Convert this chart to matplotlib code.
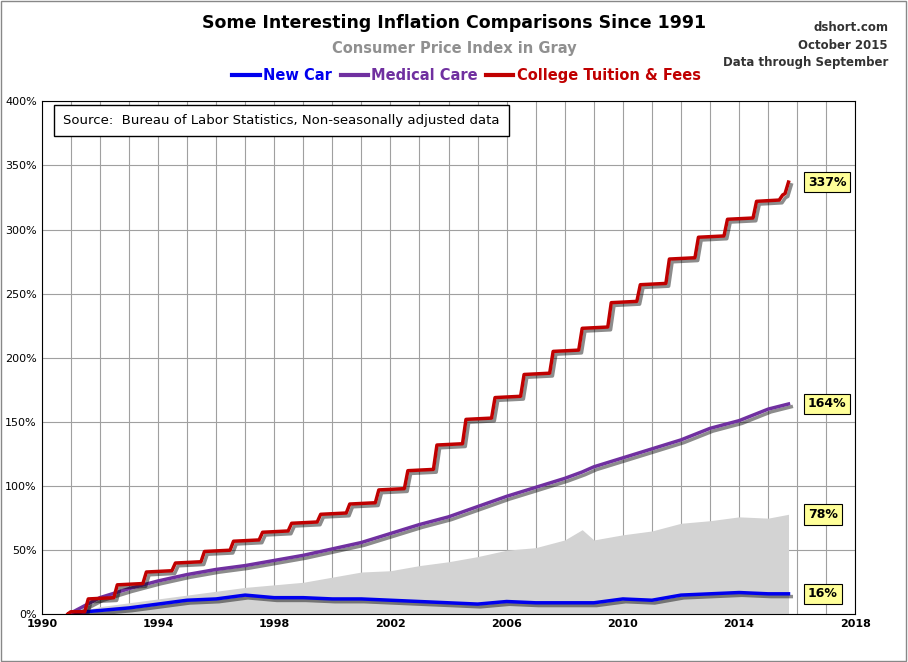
import matplotlib
matplotlib.use("Agg")
import matplotlib.pyplot as plt
import matplotlib.patheffects as pe
import numpy as np

years = [1990.92,1991,1992,1993,1994,1995,1996,1997,1998,1999,2000,2001,2002,2003,2004,2005,2006,2007,2008,2008.6,2009,2010,2011,2012,2013,2014,2015,2015.7]
cpi = [0,1,6,9,12,15,18,21,23,25,29,33,34,38,41,45,50,52,58,66,58,62,65,71,73,76,75,78]
med = [0,1,13,20,26,31,35,38,42,46,51,56,63,70,76,84,92,99,106,111,115,122,129,136,145,151,160,164]
car = [0,1,3,5,8,11,12,15,13,13,12,12,11,10,9,8,10,9,9,9,9,12,11,15,16,17,16,16]

col_steps = [1990.92,1991.0,1991.6,1992.6,1993.6,1994.6,1995.6,1996.6,1997.6,1998.6,1999.6,2000.6,2001.6,2002.6,2003.6,2004.6,2005.6,2006.6,2007.6,2008.6,2009.6,2010.6,2011.6,2012.6,2013.6,2014.6,2015.5,2015.7]
col_vals = [0,2,12,23,33,40,49,57,64,71,78,86,97,112,132,152,169,187,205,223,243,257,277,294,308,322,327,337]

cx, cy = [], []
for i in range(len(col_steps)-1):
    cx += [col_steps[i], col_steps[i+1]-0.12]
    cy += [col_vals[i], col_vals[i] + (1 if i > 1 else 0)]
cx.append(col_steps[-1]); cy.append(col_vals[-1])

fig = plt.figure(figsize=(9.08, 6.62), dpi=100)
ax = fig.add_axes([0.046, 0.072, 0.896, 0.775])
ax.fill_between(years, cpi, color="#d3d3d3", lw=0, zorder=1)
sh = [pe.SimpleLineShadow(offset=(2, -2), alpha=0.45), pe.Normal()]
ax.plot(years, car, color="#0000ee", lw=2.5, zorder=3, path_effects=sh)
ax.plot(years, med, color="#7030a0", lw=2.5, zorder=3, path_effects=sh)
ax.plot(cx, cy, color="#c00000", lw=2.5, zorder=3, path_effects=sh)

ax.set_xlim(1990, 2018)
ax.set_ylim(0, 400)
ax.set_xticks(range(1990, 2019, 4))
ax.set_xticks(range(1990, 2019), minor=True)
ax.set_yticks(range(0, 401, 50))
ax.set_yticklabels([f"{v}%" for v in range(0, 401, 50)])
ax.grid(True, which="both", axis="x", color="#a0a0a0", lw=0.8)
ax.grid(True, axis="y", color="#a0a0a0", lw=0.8)
ax.set_axisbelow(True)
ax.tick_params(labelsize=8, length=0, which="both")
for t in ax.get_xticklabels():
    t.set_fontweight("bold")

for v, lab in [(337, "337%"), (164, "164%"), (78, "78%"), (16, "16%")]:
    ax.annotate(lab, (2015.7, v), xytext=(14, 0), textcoords="offset points",
                va="center", fontsize=9, fontweight="bold",
                bbox=dict(boxstyle="square,pad=0.3", fc="#ffff99", ec="black", lw=0.8),
                path_effects=[pe.withSimplePatchShadow(offset=(2, -2), alpha=0.5)] if False else None)

ax.text(0.026, 0.975, "Source:  Bureau of Labor Statistics, Non-seasonally adjusted data",
        transform=ax.transAxes, fontsize=9.5, va="top",
        bbox=dict(boxstyle="square,pad=0.7", fc="white", ec="black", lw=1))

fig.text(0.5, 0.958, "Some Interesting Inflation Comparisons Since 1991", ha="center",
         fontsize=12.5, fontweight="bold")
fig.text(0.5, 0.92, "Consumer Price Index in Gray", ha="center", fontsize=10.5,
         fontweight="bold", color="#909090")
fig.text(0.978, 0.968, "dshort.com\nOctober 2015\nData through September", ha="right",
         va="top", fontsize=8.5, fontweight="bold", color="#333333", linespacing=1.45)
items = [("New Car", "#0000ee", 0.256), ("Medical Care", "#7030a0", 0.375), ("College Tuition & Fees", "#c00000", 0.535)]
for name, c, x in items:
    fig.lines.append(plt.Line2D([x, x+0.03], [0.886, 0.886], color=c, lw=3, transform=fig.transFigure))
    fig.text(x+0.034, 0.886, name, color=c, fontsize=10.5, fontweight="bold", va="center")

fig.patches.append(plt.Rectangle((0.001, 0.001), 0.997, 0.997, fill=False, ec="#888888", lw=1, transform=fig.transFigure))
fig.savefig("out.png", dpi=100)
